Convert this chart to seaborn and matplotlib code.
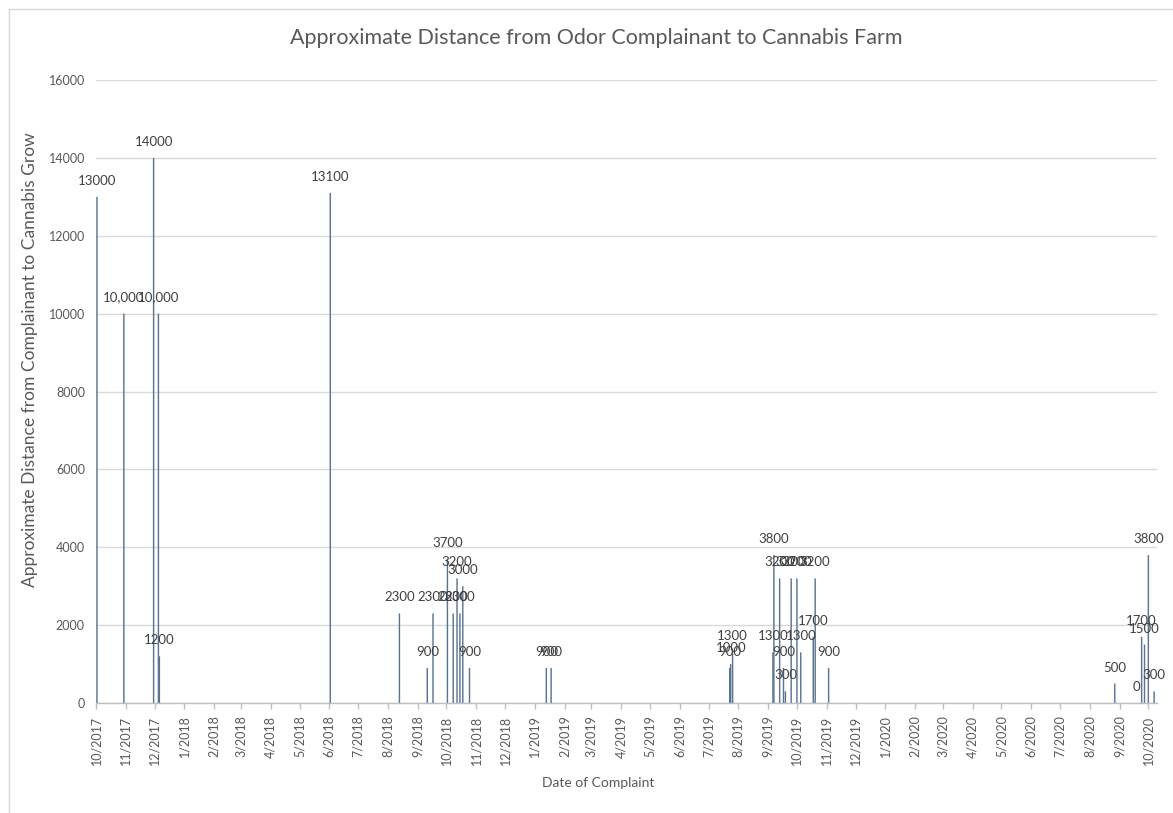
import matplotlib
matplotlib.use("Agg")
import matplotlib.pyplot as plt
import matplotlib.dates as mdates
from matplotlib.lines import Line2D
import numpy as np
import pandas as pd
import seaborn as sns

# Complaint dates and the estimated distance (ft) to the nearest cannabis grow
complaint_dates = [
    "2017-10-02", "2017-10-30", "2017-11-30", "2017-12-05", "2017-12-06",
    "2018-06-02", "2018-08-13", "2018-09-11", "2018-09-17", "2018-10-02",
    "2018-10-08", "2018-10-12", "2018-10-15", "2018-10-18", "2018-10-25",
    "2019-01-13", "2019-01-18", "2019-07-23", "2019-07-24", "2019-07-26",
    "2019-09-06", "2019-09-07", "2019-09-13", "2019-09-17", "2019-09-19",
    "2019-09-25", "2019-10-01", "2019-10-05", "2019-10-18", "2019-10-20",
    "2019-11-03", "2020-08-27", "2020-09-19", "2020-09-24", "2020-09-27",
    "2020-10-01", "2020-10-07",
]
distances = [
    13000, 10000, 14000, 10000, 1200,
    13100, 2300, 900, 2300, 3700,
    2300, 3200, 2300, 3000, 900,
    900, 900, 900, 1000, 1300,
    1300, 3800, 3200, 900, 300,
    3200, 3200, 1300, 1700, 3200,
    900, 500, 0, 1700, 1500,
    3800, 300,
]
# entries that were typed with a thousands separator
with_separator = [False, True, False, True] + [False] * 33

title = "Approximate Distance from Odor Complainant to Cannabis Farm"
y_title = "Approximate Distance from Complainant to Cannabis Grow"
x_title = "Date of Complaint"

df = pd.DataFrame({
    "date": mdates.date2num(pd.to_datetime(complaint_dates)),
    "distance": distances,
})

sns.set_style("white")
plt.rcParams["font.family"] = ["Lato", "DejaVu Sans"]

W, H = 1173, 813
fig = plt.figure(figsize=(W / 100, H / 100), dpi=100)
left, right, top, bottom = 96, 1157, 80, 703
ax = fig.add_axes([left / W, 1 - bottom / H, (right - left) / W, (bottom - top) / H])

bar_color = "#5b7591"
sns.barplot(data=df, x="date", y="distance", native_scale=True, width=1.5,
            color=bar_color, saturation=1, linewidth=0, errorbar=None, ax=ax)
for p in ax.patches:
    p.set_snap(False)
    p.set_antialiased(True)

x0 = mdates.date2num(pd.Timestamp("2017-10-01"))
x1 = mdates.date2num(pd.Timestamp("2020-10-10"))
ax.set_xlim(x0, x1)
ax.set_ylim(0, 16000)

# value labels above each bar
for xd, v, sep in zip(df["date"], distances, with_separator):
    txt = f"{v:,}" if sep else f"{v}"
    ax.annotate(txt, (xd, v), xytext=(0, 16), textcoords="offset pixels",
                ha="center", va="center", fontsize=9.5, color="#404040",
                annotation_clip=False)

# axes styling
ax.set_yticks(np.arange(0, 16001, 2000))
ax.yaxis.grid(True, color="#d9d9d9", linewidth=1)
ax.set_axisbelow(True)
for s in ["top", "right", "left"]:
    ax.spines[s].set_visible(False)
ax.spines["bottom"].set_color("#bfbfbf")
ax.spines["bottom"].set_linewidth(1)

month_ticks = pd.date_range("2017-10-01", "2020-10-01", freq="MS")
ax.set_xticks(mdates.date2num(month_ticks))
ax.set_xticklabels([f"{d.month}/{d.year}" for d in month_ticks], rotation=90)
ax.tick_params(axis="x", length=4, width=1, color="#bfbfbf", pad=5,
               labelsize=9, labelcolor="#595959", bottom=True)
ax.tick_params(axis="y", length=0, pad=8, labelsize=9, labelcolor="#595959")
ax.set_xlabel("")
ax.set_ylabel("")

fig.text(596 / W, 1 - 38 / H, title, ha="center", va="center",
         fontsize=15.5, color="#595959")
fig.text(30 / W, 1 - 360 / H, y_title, ha="center", va="center",
         rotation=90, fontsize=12.5, color="#595959")
fig.text(598 / W, 1 - 783 / H, x_title, ha="center", va="center",
         fontsize=10, color="#595959")

# outer chart frame
fig.add_artist(Line2D([9 / W, 9 / W], [0, 1 - 9 / H], transform=fig.transFigure,
                      color="#d9d9d9", linewidth=1))
fig.add_artist(Line2D([9 / W, 1], [1 - 9 / H, 1 - 9 / H], transform=fig.transFigure,
                      color="#d9d9d9", linewidth=1))

fig.savefig("out.png", dpi=100, facecolor="white")
